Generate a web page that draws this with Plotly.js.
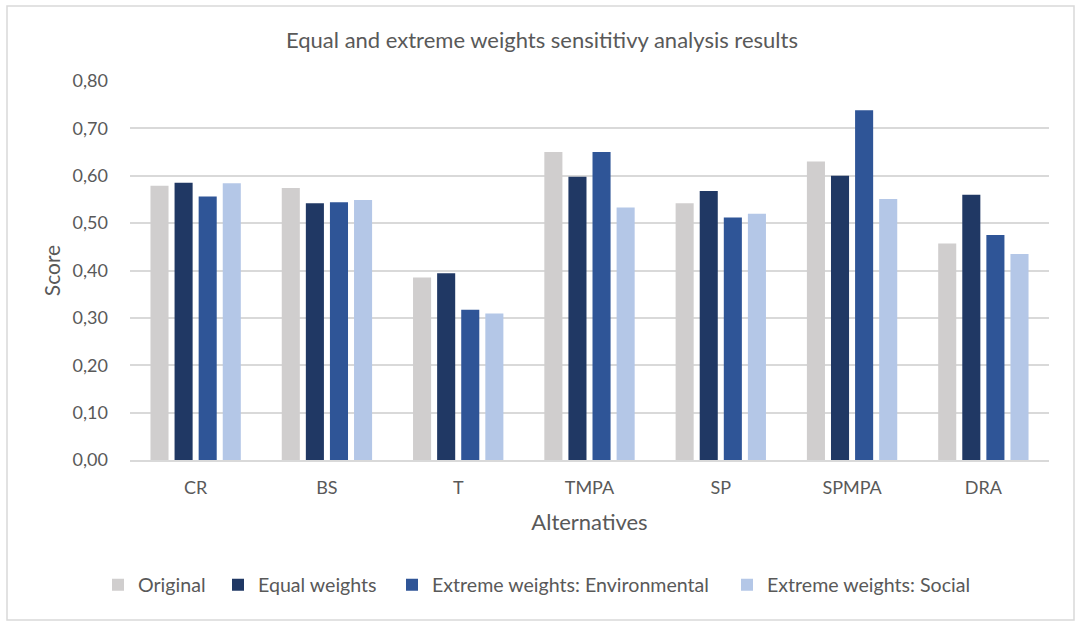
<!DOCTYPE html>
<html>
<head>
<meta charset="utf-8">
<script src="https://cdn.plot.ly/plotly-3.0.1.min.js"></script>
<style>
  html, body { margin: 0; padding: 0; background: #ffffff; }
  #chart { width: 1076px; height: 622px; }
</style>
</head>
<body>
<div id="chart"></div>
<script>
// Alternatives on the x axis
const alternatives = ['CR', 'BS', 'T', 'TMPA', 'SP', 'SPMPA', 'DRA'];

// Score of each alternative per weighting scenario
const original      = [0.579, 0.574, 0.385, 0.650, 0.542, 0.630, 0.457];
const equalWeights  = [0.585, 0.542, 0.394, 0.598, 0.568, 0.600, 0.560];
const extremeEnv    = [0.556, 0.544, 0.317, 0.650, 0.512, 0.738, 0.475];
const extremeSocial = [0.584, 0.549, 0.309, 0.533, 0.520, 0.551, 0.435];

const seriesNames = [
  'Original',
  'Equal weights',
  'Extreme weights: Environmental',
  'Extreme weights: Social'
];
const seriesValues = [original, equalWeights, extremeEnv, extremeSocial];
const seriesColors = ['#D0CECE', '#203864', '#2F5597', '#B4C7E7'];

// Each legend entry gets its own legend box so the entries sit where they belong
const legendX = [98, 218, 392, 727];
const legendIds = ['legend', 'legend2', 'legend3', 'legend4'];

const FONT = 'Lato, "Open Sans", sans-serif';
const TEXT = '#595959';

const traces = seriesNames.map((name, i) => ({
  type: 'bar',
  name: name,
  x: alternatives,
  y: seriesValues[i],
  marker: { color: seriesColors[i], line: { width: 0 } },
  legend: legendIds[i],
  hoverinfo: 'x+y+name'
}));

const W = 1076, H = 622;
const L = 130, R = 27, T = 81, B = 162;
const pw = W - L - R, ph = H - T - B;
const px = v => (v - L) / pw;          // container px -> paper x
const py = v => (H - B - v) / ph;      // container px -> paper y

const layout = {
  width: W,
  height: H,
  margin: { l: L, r: R, t: T, b: B, pad: 0 },
  paper_bgcolor: '#ffffff',
  plot_bgcolor: '#ffffff',
  separators: ',.',
  showlegend: true,
  font: { family: FONT, color: TEXT, size: 18 },
  title: {
    text: 'Equal and extreme weights sensititivy analysis results',
    font: { family: FONT, size: 22, color: TEXT },
    x: 542 / W, xref: 'container', xanchor: 'center',
    y: 1 - 40 / H, yref: 'container', yanchor: 'middle'
  },
  barmode: 'group',
  bargap: 0.266,
  bargroupgap: 0.25,
  xaxis: {
    type: 'category',
    showgrid: false,
    showline: true,
    linecolor: '#d9d9d9',
    linewidth: 1.5,
    ticks: '',
    ticklabelstandoff: 11,
    tickfont: { family: FONT, size: 18, color: TEXT },
    title: {
      text: 'Alternatives',
      font: { family: FONT, size: 22, color: TEXT },
      standoff: 17
    },
    fixedrange: true
  },
  yaxis: {
    range: [0, 0.8],
    dtick: 0.1,
    tick0: 0,
    tickformat: '.2f',
    showgrid: true,
    gridcolor: '#d9d9d9',
    gridwidth: 1.5,
    zeroline: false,
    showline: false,
    ticks: '',
    ticklabelstandoff: 21,
    tickfont: { family: FONT, size: 18, color: TEXT },
    title: {
      text: 'Score',
      font: { family: FONT, size: 21, color: TEXT },
      standoff: 6
    },
    fixedrange: true
  },
  shapes: [{
    type: 'rect',
    xref: 'paper', yref: 'paper',
    x0: px(7), x1: px(1074),
    y0: py(620), y1: py(6),
    line: { color: '#d9d9d9', width: 1.5 },
    fillcolor: 'rgba(0,0,0,0)',
    layer: 'below'
  }]
};

legendIds.forEach((id, i) => {
  layout[id] = {
    orientation: 'h',
    xref: 'container', yref: 'container',
    x: legendX[i] / W, xanchor: 'left',
    y: 1 - 585 / H, yanchor: 'middle',
    bgcolor: 'rgba(0,0,0,0)',
    borderwidth: 0,
    font: { family: FONT, size: 19.6, color: TEXT },
    itemclick: false,
    itemdoubleclick: false
  };
});

Plotly.newPlot('chart', traces, layout, { displayModeBar: false });
</script>
</body>
</html>
